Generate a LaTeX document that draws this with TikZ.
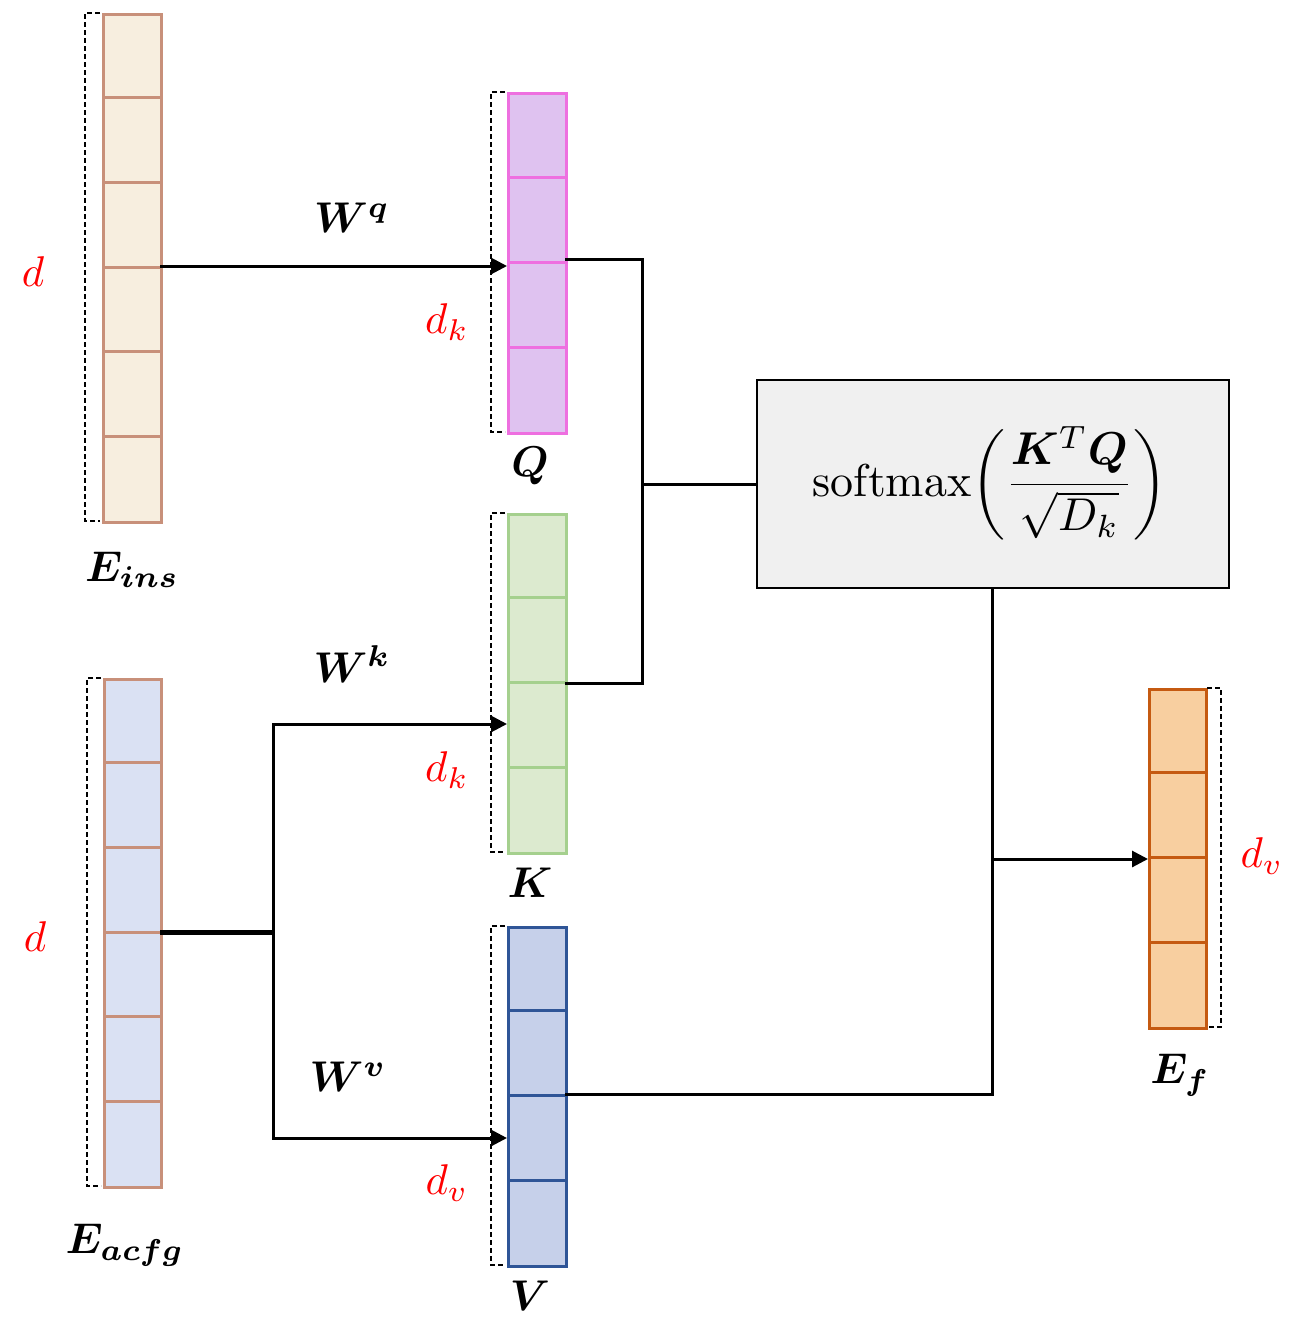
\documentclass[tikz,border=0pt]{standalone}
\usepackage{amsmath,bm}
\usetikzlibrary{arrows.meta}
\definecolor{insF}{HTML}{F7EEDF}\definecolor{insB}{HTML}{C8907A}
\definecolor{qF}{HTML}{DFC2F0}\definecolor{qB}{HTML}{EE6FE0}
\definecolor{kF}{HTML}{DCEACF}\definecolor{kB}{HTML}{A5D08E}
\definecolor{vF}{HTML}{C6D0EA}\definecolor{vB}{HTML}{2F5597}
\definecolor{aF}{HTML}{DAE1F3}
\definecolor{fF}{HTML}{F8CFA0}\definecolor{fB}{HTML}{C55A11}
\newcommand\bigL[1]{\scalebox{4.3}{#1}}
\begin{document}
\begin{tikzpicture}[x=1pt,y=-1pt,
  lab/.style={},
  red/.style={text=red},
  con/.style={line width=3pt},
  arr/.style={con,-{Triangle[length=16pt,width=16pt]}},
  br/.style={dash pattern=on 5pt off 3pt,line width=2pt}]
\useasboundingbox (0,0) rectangle (1313,1342);
\newcommand\vecbox[8]{%
  \node[draw=#7,fill=#6,line width=3pt,minimum width=#3-#1,minimum height=#4-#2,inner sep=0,anchor=north west] (#8) at (#1,#2) {};
  \foreach \i in {1,...,\numexpr#5-1\relax}{\draw[#7,line width=3pt] (#1,{#2+(#4-#2)*\i/#5}) -- (#3,{#2+(#4-#2)*\i/#5});}}
\vecbox{102}{13}{160}{521}{6}{insF}{insB}{Eins}
\vecbox{103}{678}{160}{1186}{6}{aF}{insB}{Eacfg}
\vecbox{507}{92}{565}{432}{4}{qF}{qB}{Q}
\vecbox{507}{513}{565}{852}{4}{kF}{kB}{K}
\vecbox{507}{926}{565}{1265}{4}{vF}{vB}{V}
\vecbox{1148}{688}{1205}{1027}{4}{fF}{fB}{Ef}
\draw[br] (100,13)--(85,13)--(85,521)--(100,521);
\draw[br] (101,678)--(87,678)--(87,1186)--(101,1186);
\draw[br] (505,92)--(491,92)--(491,432)--(505,432);
\draw[br] (505,513)--(491,513)--(491,852)--(505,852);
\draw[br] (505,926)--(491,926)--(491,1265)--(505,1265);
\draw[br] (1207,688)--(1221,688)--(1221,1027)--(1207,1027);
\node[draw,fill=black!6,line width=1.5pt,minimum width=472pt,minimum height=208pt,anchor=north west,inner sep=0] (S) at (756,379) {};
\node (St) at (990,483) {\scalebox{4.6}{softmax$\left(\dfrac{\bm{K}^T\bm{Q}}{\sqrt{D_k}}\right)$}};
\coordinate (qr) at (565,259); \coordinate (kr) at (565,683);
\draw[con] (qr) -- (642,259) -- (642,683) -- (kr);
\draw[con] (642,484) -- (S.west |- 0,484);
\draw[arr] (160,266) -- (507,266);
\draw[con,line width=5pt] (160,932) -- (275,932);
\draw[con] (273,932) -- (273,724);
\draw[con] (273,932) -- (273,1138);
\draw[arr] (272,724) -- (507,724);
\draw[arr] (272,1138) -- (507,1138);
\draw[con] (S.south -| 992,0) -- (992,1094) -- (565,1094);
\draw[arr] (992,859) -- (1148,859);
\node[red] at (33,272) {\bigL{$d$}};
\node[red] at (35,937) {\bigL{$d$}};
\node[red] at (447,322) {\bigL{$d_k$}};
\node[red] at (447,770) {\bigL{$d_k$}};
\node[red] at (447,1183) {\bigL{$d_v$}};
\node[red] at (1262,856) {\bigL{$d_v$}};
\node at (530,466) {\bigL{$\bm{Q}$}};
\node at (530,883) {\bigL{$\bm{K}$}};
\node at (530,1296) {\bigL{$\bm{V}$}};
\node at (132,570) {\bigL{$\bm{E_{ins}}$}};
\node at (125,1245) {\bigL{$\bm{E_{acfg}}$}};
\node at (1180,1075) {\bigL{$\bm{E_f}$}};
\node at (352,218) {\bigL{$\bm{W^q}$}};
\node at (352,664) {\bigL{$\bm{W^k}$}};
\node at (348,1077) {\bigL{$\bm{W^v}$}};
\end{tikzpicture}
\end{document}
